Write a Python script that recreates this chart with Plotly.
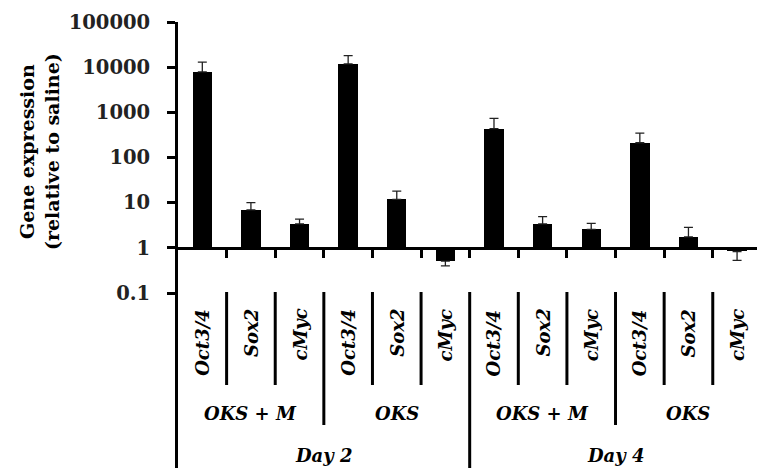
import plotly.graph_objects as go

# ---- data ----
days = ["Day 2", "Day 4"]
groups = ["OKS + M", "OKS"]
genes = ["Oct3/4", "Sox2", "cMyc"]
expression = [7900, 6.9, 3.4, 11800, 11.8, 0.51, 434, 3.4, 2.55, 212, 1.75, 0.83]
error = [5000, 3.1, 0.9, 6300, 6.2, 0.11, 302, 1.5, 0.92, 135, 1.08, 0.30]
y_tick_vals = [0.1, 1, 10, 100, 1000, 10000, 100000]
y_tick_text = ["0.1", "1", "10", "100", "1000", "10000", "100000"]

W, H = 757, 468
ML, MR, MT, MB = 178, 0, 22, 175
plot_h = H - MT - MB
plot_w = W - ML - MR
XMAX = 11.41


def py2paper(py):
    return (H - MB - py) / plot_h


def px2paper(px):
    return (px - ML) / plot_w


n = len(expression)
xs = list(range(n))
baseline = 1
bar_len = [v - baseline for v in expression]
err_plus = [e if v >= baseline else 0 for v, e in zip(expression, error)]
err_minus = [e if v < baseline else 0 for v, e in zip(expression, error)]

SERIF = "DejaVu Serif"

fig = go.Figure()
fig.add_trace(go.Bar(
    x=xs, y=bar_len, base=[baseline] * n, width=0.4,
    marker=dict(color="black", line=dict(width=0)),
    showlegend=False, hoverinfo="skip",
))
fig.add_trace(go.Scatter(
    x=xs, y=expression, mode="markers",
    marker=dict(size=1, color="rgba(0,0,0,0)"),
    error_y=dict(type="data", symmetric=False, array=err_plus, arrayminus=err_minus,
                 color="#222222", thickness=1.3, width=4.5),
    showlegend=False, hoverinfo="skip",
))

shapes = []
annotations = []
# y-axis extension down through the label table
shapes.append(dict(type="line", xref="paper", yref="paper",
                   x0=-1.5 / plot_w, x1=-1.5 / plot_w, y0=0, y1=py2paper(H),
                   line=dict(color="black", width=3)))
# separators
for k in range(n - 1):
    b = k + 0.5
    if (k + 1) % 6 == 0:
        bottom = H
    elif (k + 1) % 3 == 0:
        bottom = 425
    else:
        bottom = 385
    shapes.append(dict(type="line", xref="x", yref="paper", x0=b, x1=b,
                       y0=py2paper(292), y1=py2paper(bottom),
                       line=dict(color="black", width=3)))

lab_font = dict(family=SERIF, size=18, color="black", weight="bold", style="italic")
i = 0
for di, d in enumerate(days):
    for gi, g in enumerate(groups):
        for ge in genes:
            annotations.append(dict(x=i, y=py2paper(307), xref="x", yref="paper",
                                    text=ge, textangle=-90, showarrow=False,
                                    xanchor="center", yanchor="top", font=lab_font))
            i += 1
        annotations.append(dict(x=di * 6 + gi * 3 + 1, y=py2paper(413), xref="x", yref="paper",
                                text=g, showarrow=False, xanchor="center", yanchor="middle",
                                font=lab_font))
    annotations.append(dict(x=di * 6 + 2.5, y=py2paper(455), xref="x", yref="paper",
                            text=d, showarrow=False, xanchor="center", yanchor="middle",
                            font=lab_font))

annotations.append(dict(x=px2paper(39), y=py2paper(152), xref="paper", yref="paper",
                        text="Gene expression<br>(relative to saline)", textangle=-90,
                        showarrow=False, xanchor="center", yanchor="middle",
                        font=dict(family=SERIF, size=19, color="black", weight="bold")))

fig.update_layout(
    width=W, height=H,
    margin=dict(l=ML, r=MR, t=MT, b=MB, pad=0),
    paper_bgcolor="white", plot_bgcolor="white",
    shapes=shapes, annotations=annotations,
    bargap=0,
    xaxis=dict(range=[-0.5, XMAX], anchor="free", position=1 / 6,
               showline=True, linecolor="black", linewidth=3,
               ticks="outside", ticklen=8, tickwidth=3, tickcolor="black",
               tickvals=[k + 0.5 for k in range(n - 1)], showticklabels=False,
               showgrid=False, zeroline=False, fixedrange=True),
    yaxis=dict(type="log", range=[-1, 5], showline=True, linecolor="black", linewidth=3,
               ticks="outside", ticklen=8, tickwidth=3, tickcolor="black",
               tickvals=y_tick_vals, ticktext=y_tick_text, ticklabelstandoff=13,
               tickfont=dict(family=SERIF, size=19.5, color="#222222", weight="bold"),
               showgrid=False, zeroline=False, fixedrange=True),
)

fig.write_html("out.html", config={"displayModeBar": False},
               post_script="document.body.style.margin='0';document.body.style.overflow='hidden';")
